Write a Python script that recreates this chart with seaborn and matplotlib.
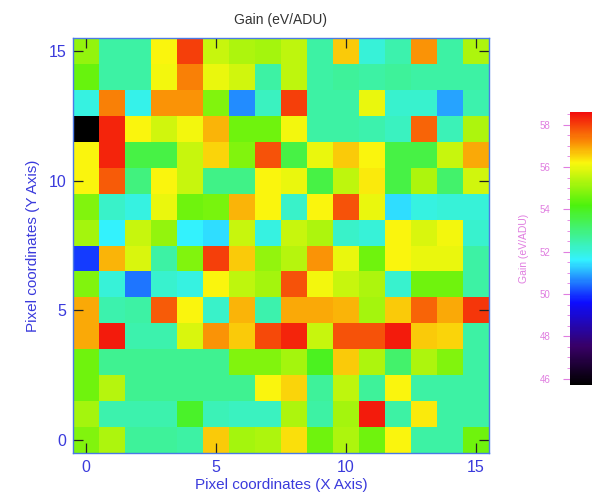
import numpy as np
import pandas as pd
import matplotlib
matplotlib.use("Agg")
import matplotlib.pyplot as plt
from matplotlib.colors import LinearSegmentedColormap
from matplotlib.ticker import MultipleLocator
import seaborn as sns

# Gain per pixel (eV/ADU); one list per detector row, from Y = 15 (top) down to Y = 0
row_15 = [55.0, 52.6, 52.6, 56.2, 58.0, 55.6, 55.3, 55.2, 55.5, 52.6, 56.6, 52.0, 52.5, 57.1, 52.6, 55.3]
row_14 = [54.5, 52.6, 52.6, 56.1, 57.3, 56.0, 55.7, 52.6, 55.5, 52.6, 52.7, 52.6, 52.7, 52.6, 52.6, 52.6]
row_13 = [51.9, 57.3, 51.8, 57.1, 57.1, 54.8, 50.7, 52.3, 58.0, 52.6, 52.6, 56.0, 52.1, 52.1, 50.9, 52.5]
row_12 = [45.7, 58.3, 56.2, 55.7, 56.1, 56.8, 54.6, 54.6, 56.1, 52.6, 52.6, 52.5, 52.3, 57.6, 52.4, 55.3]
row_11 = [56.2, 58.3, 53.6, 53.6, 55.6, 56.5, 54.8, 57.8, 53.6, 56.0, 56.6, 56.2, 53.6, 53.6, 55.6, 56.9]
row_10 = [56.2, 57.7, 53.0, 56.2, 55.6, 52.9, 52.9, 56.2, 56.0, 53.6, 55.5, 56.3, 53.6, 55.3, 53.2, 55.7]
row_9 = [54.8, 52.2, 51.9, 56.0, 54.6, 54.7, 56.8, 56.2, 52.2, 56.2, 57.8, 56.0, 51.4, 51.9, 52.0, 52.0]
row_8 = [55.2, 51.6, 55.6, 55.0, 51.6, 51.4, 55.6, 51.9, 55.6, 55.3, 52.2, 52.0, 56.2, 55.8, 56.1, 52.1]
row_7 = [50.0, 56.8, 55.8, 52.6, 54.8, 58.0, 56.6, 55.0, 55.4, 57.1, 56.0, 54.6, 56.2, 56.0, 56.0, 52.6]
row_6 = [54.8, 52.0, 50.5, 52.1, 51.9, 56.2, 55.5, 55.2, 57.8, 56.1, 55.6, 55.3, 52.1, 54.6, 54.6, 52.6]
row_5 = [56.9, 52.5, 52.6, 57.7, 56.2, 52.2, 56.8, 52.5, 56.9, 56.9, 56.8, 55.2, 56.6, 57.6, 56.9, 58.1]
row_4 = [56.9, 58.4, 52.5, 52.5, 55.8, 57.1, 56.6, 57.9, 58.3, 55.6, 57.8, 57.8, 58.4, 56.6, 56.5, 52.6]
row_3 = [54.6, 52.8, 52.8, 52.8, 52.8, 52.8, 54.8, 54.8, 55.2, 54.0, 56.6, 55.3, 53.2, 55.3, 54.8, 52.6]
row_2 = [54.6, 55.4, 52.8, 52.8, 52.8, 52.8, 52.8, 56.2, 56.5, 52.7, 55.5, 52.7, 56.2, 52.6, 52.6, 52.6]
row_1 = [55.2, 52.5, 52.5, 52.5, 53.9, 52.4, 52.3, 52.3, 55.3, 52.6, 55.2, 58.4, 52.6, 56.3, 52.6, 52.6]
row_0 = [54.8, 55.3, 52.7, 52.7, 52.6, 56.6, 55.2, 55.3, 56.4, 54.6, 55.3, 54.6, 56.2, 52.6, 52.6, 54.6]

x_pixels = list(range(16))
y_pixels = list(range(16))
gain_min, gain_max = 45.7, 58.6

rows_bottom_up = [row_0, row_1, row_2, row_3, row_4, row_5, row_6, row_7,
                  row_8, row_9, row_10, row_11, row_12, row_13, row_14, row_15]
gain = pd.DataFrame(rows_bottom_up, index=y_pixels, columns=x_pixels)

# Rainbow table running black -> violet -> blue -> cyan -> green -> yellow -> red
def _pos(v):
    return (v - gain_min) / (gain_max - gain_min)

rainbow = LinearSegmentedColormap.from_list(
    "rainbow_black",
    [
        (0.0, (0.0, 0.0, 0.0)),
        (_pos(47.5), (0.22, 0.0, 0.40)),
        (_pos(49.6), (0.05, 0.05, 1.0)),
        (_pos(51.6), (0.2, 0.95, 1.0)),
        (_pos(54.2), (0.3, 0.95, 0.05)),
        (_pos(56.2), (0.98, 0.97, 0.05)),
        (_pos(57.2), (0.98, 0.55, 0.02)),
        (1.0, (0.95, 0.05, 0.05)),
    ],
)

sns.set_theme(style="white")
plt.rcParams["font.family"] = ["Liberation Sans", "DejaVu Sans"]

W, H = 592, 493
fig = plt.figure(figsize=(W / 100, H / 100), dpi=100)
ax = fig.add_axes([73 / W, 1 - 453 / H, 416 / W, 415 / H])
cax = fig.add_axes([570 / W, 1 - 385 / H, 24 / W, 273 / H])

sns.heatmap(gain, ax=ax, cmap=rainbow, vmin=gain_min, vmax=gain_max,
            cbar=True, cbar_ax=cax, square=False,
            xticklabels=False, yticklabels=False)
ax.set_ylim(0, 16)
ax.set_xlim(0, 16)
ax.set_axisbelow(False)

axis_blue = "#3a3adc"
ticks = [0, 5, 10, 15]
ax.set_xticks([t + 0.5 for t in ticks])
ax.set_yticks([t + 0.5 for t in ticks])
ax.set_xticklabels([str(t) for t in ticks], color=axis_blue, fontsize=11.5)
ax.set_yticklabels([str(t) for t in ticks], color=axis_blue, fontsize=11.5, rotation=0)
ax.tick_params(axis="both", which="both", direction="in", length=7, width=0.9,
               color="#222222", top=True, right=True, bottom=True, left=True, pad=5)
ax.set_xlabel("Pixel coordinates (X Axis)", color=axis_blue, fontsize=11, labelpad=2)
ax.set_ylabel("Pixel coordinates (Y Axis)", color=axis_blue, fontsize=11, labelpad=6)
ax.set_title("Gain (eV/ADU)", color="#333333", fontsize=10, pad=10)
for side in ax.spines.values():
    side.set_visible(True)
    side.set_color("#4a7ae6")
    side.set_linewidth(1.0)
    side.set_zorder(5)

# Colorbar with its scale and caption on the left side
bar_pink = "#e07ee0"
cax.yaxis.set_ticks_position("left")
cax.yaxis.set_label_position("left")
cax.set_yticks([46, 48, 50, 52, 54, 56, 58])
cax.yaxis.set_minor_locator(MultipleLocator(0.5))
cax.tick_params(axis="y", which="major", direction="out", length=5, width=0.8,
                color=bar_pink, labelcolor=bar_pink, labelsize=7, pad=9)
cax.tick_params(axis="y", which="minor", direction="out", length=2.5, width=0.6,
                color=bar_pink)
cax.set_ylabel("Gain (eV/ADU)", color=bar_pink, fontsize=7.5, labelpad=8)
for side in cax.spines.values():
    side.set_visible(False)

fig.savefig("out.png", dpi=100)
